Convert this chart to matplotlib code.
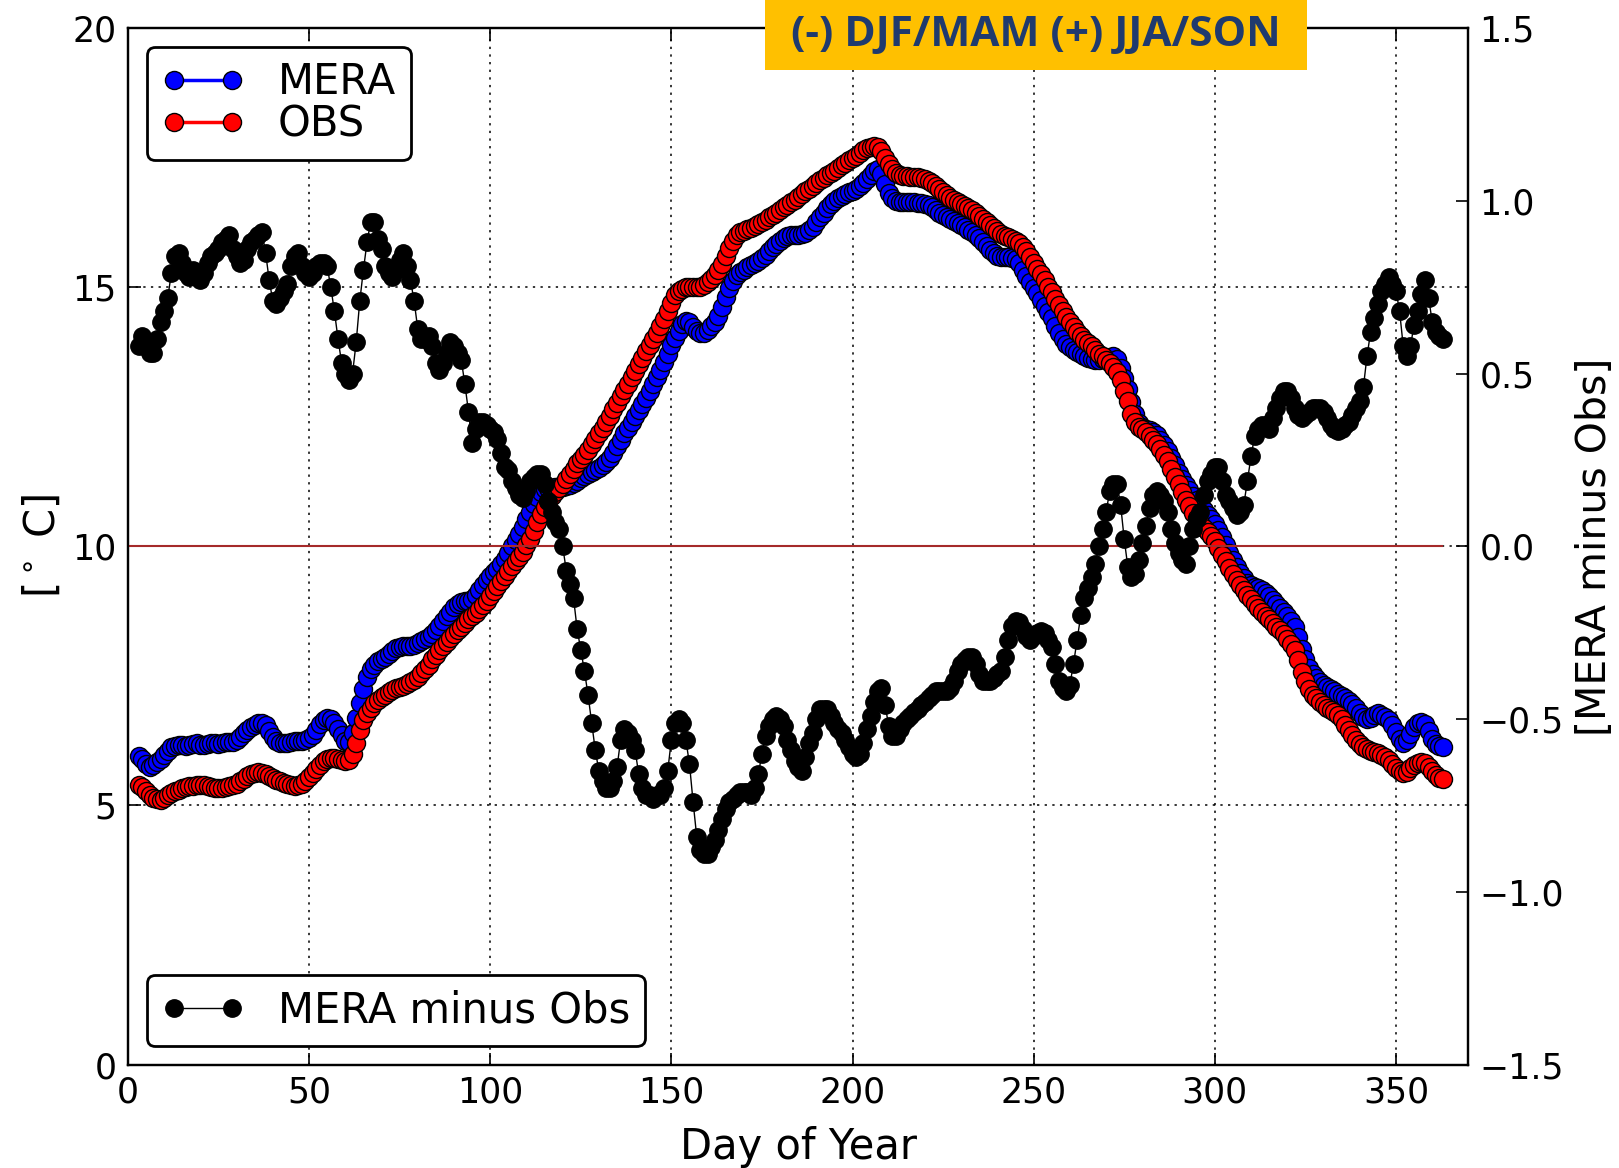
import matplotlib
matplotlib.use('Agg')
import matplotlib.pyplot as plt
from matplotlib.patches import Rectangle

# day of year (centred running means, days 3..363)
day_of_year = list(range(3, 364))

mera = [
    5.96, 5.90, 5.80, 5.75, 5.78, 5.84, 5.90, 5.98, 6.06, 6.12,
    6.15, 6.16, 6.16, 6.15, 6.16, 6.18, 6.20, 6.17, 6.16, 6.18,
    6.20, 6.20, 6.19, 6.20, 6.22, 6.22, 6.23, 6.26, 6.32, 6.39,
    6.46, 6.52, 6.56, 6.60, 6.60, 6.55, 6.44, 6.32, 6.24, 6.20,
    6.20, 6.21, 6.22, 6.24, 6.24, 6.24, 6.26, 6.30, 6.36, 6.46,
    6.57, 6.65, 6.69, 6.67, 6.60, 6.48, 6.36, 6.25, 6.22, 6.40,
    6.68, 6.98, 7.25, 7.48, 7.63, 7.72, 7.78, 7.82, 7.86, 7.92,
    7.98, 8.03, 8.06, 8.07, 8.07, 8.08, 8.10, 8.13, 8.17, 8.21,
    8.26, 8.31, 8.38, 8.46, 8.55, 8.65, 8.74, 8.82, 8.88, 8.92,
    8.94, 8.95, 8.98, 9.06, 9.16, 9.26, 9.35, 9.43, 9.50, 9.57,
    9.65, 9.76, 9.88, 10.00, 10.12, 10.24, 10.37, 10.52, 10.67, 10.82,
    10.95, 11.05, 11.10, 11.12, 11.13, 11.14, 11.14, 11.15, 11.17, 11.19,
    11.22, 11.26, 11.31, 11.35, 11.40, 11.44, 11.48, 11.52, 11.57, 11.62,
    11.70, 11.80, 11.93, 12.06, 12.18, 12.28, 12.40, 12.52, 12.63, 12.74,
    12.87, 13.00, 13.13, 13.27, 13.40, 13.55, 13.72, 13.88, 14.02, 14.16,
    14.28, 14.35, 14.32, 14.24, 14.16, 14.11, 14.12, 14.18, 14.25, 14.33,
    14.45, 14.62, 14.82, 14.98, 15.12, 15.24, 15.30, 15.34, 15.38, 15.42,
    15.46, 15.51, 15.56, 15.63, 15.70, 15.77, 15.84, 15.90, 15.95, 15.99,
    16.01, 16.01, 16.01, 16.02, 16.05, 16.10, 16.16, 16.25, 16.35, 16.44,
    16.52, 16.60, 16.67, 16.72, 16.76, 16.80, 16.83, 16.86, 16.90, 16.95,
    17.01, 17.08, 17.16, 17.24, 17.28, 17.18, 17.00, 16.82, 16.72, 16.66,
    16.64, 16.64, 16.64, 16.64, 16.64, 16.63, 16.62, 16.61, 16.58, 16.54,
    16.49, 16.44, 16.39, 16.35, 16.31, 16.28, 16.24, 16.20, 16.16, 16.11,
    16.06, 16.00, 15.94, 15.87, 15.80, 15.72, 15.65, 15.60, 15.58, 15.58,
    15.58, 15.57, 15.54, 15.46, 15.34, 15.22, 15.10, 14.99, 14.88, 14.76,
    14.64, 14.52, 14.40, 14.26, 14.12, 14.00, 13.91, 13.84, 13.79, 13.75,
    13.71, 13.67, 13.63, 13.61, 13.60, 13.60, 13.61, 13.63, 13.66, 13.68,
    13.62, 13.45, 13.25, 13.03, 12.78, 12.55, 12.38, 12.30, 12.27, 12.24,
    12.20, 12.14, 12.06, 11.96, 11.84, 11.70, 11.56, 11.42, 11.30, 11.19,
    11.08, 10.98, 10.89, 10.80, 10.70, 10.60, 10.52, 10.43, 10.32, 10.18,
    10.03, 9.88, 9.73, 9.60, 9.48, 9.38, 9.30, 9.25, 9.22, 9.19,
    9.15, 9.10, 9.04, 8.97, 8.89, 8.81, 8.73, 8.65, 8.56, 8.44,
    8.25, 8.02, 7.82, 7.66, 7.54, 7.46, 7.39, 7.33, 7.28, 7.24,
    7.20, 7.16, 7.12, 7.07, 7.02, 6.96, 6.88, 6.78, 6.70, 6.66,
    6.68, 6.74, 6.78, 6.75, 6.70, 6.65, 6.56, 6.42, 6.28, 6.20,
    6.26, 6.38, 6.52, 6.60, 6.62, 6.58, 6.44, 6.28, 6.18, 6.14,
    6.13,
]

obs = [
    5.40, 5.35, 5.28, 5.20, 5.15, 5.12, 5.10, 5.15, 5.20, 5.24,
    5.27, 5.30, 5.33, 5.35, 5.37, 5.38, 5.40, 5.39, 5.39, 5.38,
    5.36, 5.34, 5.33, 5.34, 5.36, 5.37, 5.39, 5.42, 5.47, 5.51,
    5.56, 5.60, 5.63, 5.64, 5.63, 5.60, 5.56, 5.53, 5.50, 5.47,
    5.44, 5.41, 5.39, 5.38, 5.39, 5.42, 5.48, 5.55, 5.63, 5.71,
    5.78, 5.85, 5.90, 5.92, 5.92, 5.90, 5.87, 5.85, 5.88, 6.00,
    6.20, 6.45, 6.65, 6.78, 6.88, 6.97, 7.04, 7.10, 7.14, 7.18,
    7.22, 7.26, 7.29, 7.31, 7.34, 7.38, 7.42, 7.47, 7.55, 7.63,
    7.72, 7.82, 7.91, 8.00, 8.08, 8.16, 8.23, 8.30, 8.38, 8.45,
    8.52, 8.59, 8.66, 8.72, 8.79, 8.86, 8.95, 9.05, 9.14, 9.24,
    9.34, 9.43, 9.52, 9.62, 9.71, 9.80, 9.90, 10.02, 10.15, 10.30,
    10.47, 10.62, 10.75, 10.88, 10.97, 11.04, 11.12, 11.20, 11.30, 11.40,
    11.50, 11.60, 11.68, 11.76, 11.85, 11.97, 12.08, 12.18, 12.28, 12.40,
    12.52, 12.65, 12.77, 12.90, 13.02, 13.14, 13.27, 13.39, 13.51, 13.63,
    13.76, 13.88, 14.00, 14.12, 14.25, 14.38, 14.55, 14.70, 14.85, 14.93,
    14.97, 15.00, 15.01, 15.01, 15.00, 15.01, 15.05, 15.10, 15.16, 15.23,
    15.33, 15.45, 15.60, 15.75, 15.90, 16.00, 16.06, 16.09, 16.12, 16.15,
    16.18, 16.22, 16.26, 16.30, 16.35, 16.39, 16.44, 16.49, 16.54, 16.59,
    16.64, 16.69, 16.74, 16.79, 16.85, 16.90, 16.96, 17.01, 17.06, 17.11,
    17.16, 17.21, 17.25, 17.30, 17.35, 17.40, 17.45, 17.50, 17.54, 17.59,
    17.64, 17.68, 17.71, 17.72, 17.70, 17.62, 17.50, 17.38, 17.28, 17.21,
    17.17, 17.15, 17.14, 17.13, 17.13, 17.12, 17.10, 17.08, 17.05, 17.01,
    16.95, 16.89, 16.83, 16.78, 16.73, 16.69, 16.65, 16.61, 16.57, 16.53,
    16.48, 16.43, 16.38, 16.32, 16.26, 16.20, 16.14, 16.08, 16.03, 15.99,
    15.96, 15.93, 15.89, 15.85, 15.78, 15.69, 15.58, 15.47, 15.36, 15.25,
    15.13, 15.01, 14.90, 14.78, 14.66, 14.55, 14.43, 14.33, 14.23, 14.14,
    14.06, 13.99, 13.93, 13.86, 13.79, 13.72, 13.67, 13.60, 13.54, 13.46,
    13.36, 13.20, 13.00, 12.80, 12.56, 12.40, 12.31, 12.26, 12.20, 12.13,
    12.06, 11.97, 11.87, 11.76, 11.64, 11.50, 11.34, 11.20, 11.04, 10.90,
    10.77, 10.65, 10.55, 10.45, 10.36, 10.28, 10.20, 10.10, 9.97, 9.84,
    9.71, 9.58, 9.46, 9.35, 9.25, 9.16, 9.07, 8.98, 8.89, 8.81,
    8.73, 8.66, 8.59, 8.52, 8.45, 8.38, 8.31, 8.22, 8.12, 8.00,
    7.80, 7.58, 7.40, 7.25, 7.14, 7.07, 7.00, 6.94, 6.88, 6.84,
    6.80, 6.74, 6.66, 6.56, 6.46, 6.36, 6.27, 6.19, 6.13, 6.09,
    6.06, 6.04, 6.02, 5.98, 5.93, 5.87, 5.80, 5.72, 5.66, 5.62,
    5.65, 5.72, 5.78, 5.82, 5.84, 5.82, 5.75, 5.66, 5.58, 5.53,
    5.52,
]

mera_minus_obs = [
    0.58, 0.61, 0.59, 0.56, 0.56, 0.60, 0.65, 0.68, 0.72, 0.79,
    0.84, 0.85, 0.82, 0.79, 0.78, 0.80, 0.79, 0.77, 0.79, 0.82,
    0.84, 0.85, 0.86, 0.88, 0.89, 0.90, 0.86, 0.84, 0.82, 0.83,
    0.86, 0.88, 0.89, 0.90, 0.91, 0.85, 0.77, 0.71, 0.70, 0.72,
    0.74, 0.76, 0.81, 0.84, 0.85, 0.81, 0.79, 0.78, 0.79, 0.81,
    0.82, 0.82, 0.81, 0.75, 0.68, 0.60, 0.53, 0.50, 0.48, 0.50,
    0.59, 0.71, 0.80, 0.88, 0.94, 0.94, 0.89, 0.86, 0.81, 0.79,
    0.78, 0.80, 0.83, 0.85, 0.81, 0.77, 0.71, 0.63, 0.60, 0.60,
    0.61, 0.58, 0.53, 0.51, 0.53, 0.56, 0.59, 0.58, 0.56, 0.54,
    0.47, 0.39, 0.30, 0.34, 0.36, 0.36, 0.35, 0.34, 0.33, 0.31,
    0.27, 0.23, 0.22, 0.19, 0.17, 0.15, 0.14, 0.16, 0.19, 0.20,
    0.21, 0.21, 0.18, 0.13, 0.10, 0.07, 0.05, 0.00, -0.07, -0.11,
    -0.15, -0.24, -0.30, -0.36, -0.43, -0.51, -0.59, -0.65, -0.68, -0.70,
    -0.70, -0.68, -0.64, -0.56, -0.53, -0.54, -0.56, -0.59, -0.66, -0.70,
    -0.72, -0.72, -0.73, -0.72, -0.72, -0.70, -0.65, -0.56, -0.51, -0.50,
    -0.51, -0.56, -0.63, -0.74, -0.84, -0.88, -0.89, -0.89, -0.87, -0.85,
    -0.82, -0.79, -0.76, -0.74, -0.73, -0.72, -0.71, -0.71, -0.71, -0.72,
    -0.70, -0.66, -0.60, -0.55, -0.52, -0.50, -0.49, -0.50, -0.52, -0.56,
    -0.59, -0.62, -0.64, -0.65, -0.61, -0.57, -0.54, -0.50, -0.47, -0.47,
    -0.47, -0.49, -0.51, -0.53, -0.54, -0.56, -0.58, -0.60, -0.61, -0.60,
    -0.57, -0.53, -0.49, -0.45, -0.42, -0.41, -0.46, -0.52, -0.55, -0.55,
    -0.53, -0.51, -0.50, -0.49, -0.48, -0.47, -0.46, -0.45, -0.44, -0.43,
    -0.42, -0.42, -0.42, -0.42, -0.41, -0.39, -0.36, -0.34, -0.33, -0.32,
    -0.32, -0.34, -0.37, -0.39, -0.39, -0.39, -0.38, -0.37, -0.36, -0.32,
    -0.27, -0.23, -0.215, -0.22, -0.24, -0.26, -0.27, -0.26, -0.25, -0.245,
    -0.25, -0.27, -0.29, -0.34, -0.39, -0.41, -0.42, -0.40, -0.34, -0.27,
    -0.20, -0.15, -0.12, -0.09, -0.05, 0.00, 0.05, 0.10, 0.16, 0.18,
    0.18, 0.12, 0.02, -0.06, -0.09, -0.08, -0.04, 0.01, 0.06, 0.11,
    0.15, 0.16, 0.15, 0.13, 0.10, 0.05, 0.01, -0.02, -0.04, -0.05,
    0.00, 0.05, 0.08, 0.10, 0.15, 0.19, 0.21, 0.23, 0.23, 0.19,
    0.15, 0.13, 0.11, 0.09, 0.10, 0.12, 0.19, 0.26, 0.32, 0.34,
    0.35, 0.35, 0.34, 0.37, 0.40, 0.43, 0.45, 0.45, 0.43, 0.40,
    0.38, 0.37, 0.38, 0.39, 0.40, 0.40, 0.40, 0.39, 0.37, 0.35,
    0.34, 0.335, 0.34, 0.35, 0.36, 0.38, 0.40, 0.42, 0.46, 0.55,
    0.62, 0.66, 0.70, 0.74, 0.76, 0.78, 0.76, 0.74, 0.68, 0.58,
    0.55, 0.58, 0.64, 0.68, 0.73, 0.77, 0.72, 0.65, 0.62, 0.61,
    0.60,
]

x_ticks = [0, 50, 100, 150, 200, 250, 300, 350]
left_ticks = [0, 5, 10, 15, 20]
right_ticks = [-1.5, -1.0, -0.5, 0.0, 0.5, 1.0, 1.5]
season_note = '(-) DJF/MAM (+) JJA/SON'

fig = plt.figure(figsize=(16.19, 11.68), dpi=100)
ax = fig.add_axes([0.079, 0.0885, 0.828, 0.8875])

# blue first so red sits on top where they overlap
ax.plot(day_of_year, mera, '-o', color='blue', mfc='blue', mec='black',
        ms=13, mew=1.0, lw=2.5, label='MERA')
ax.plot(day_of_year, obs, '-o', color='red', mfc='red', mec='black',
        ms=13, mew=1.0, lw=2.5, label='OBS')
ax.set_xlim(0, 370)
ax.set_ylim(0, 20)
ax.set_xticks(x_ticks)
ax.set_yticks(left_ticks)
ax.grid(True, linestyle=(0, (1.5, 3.5)), color='black', linewidth=1.1)
ax.set_xlabel('Day of Year', fontsize=30, labelpad=12)
ax.set_ylabel(r'[$^\circ$ C]', fontsize=30, labelpad=6)

ax2 = ax.twinx()
ax2.hlines(0.0, 0, day_of_year[-1], color='#a52a2a', linewidth=1.5)
ax2.plot(day_of_year, mera_minus_obs, '-o', color='black', mfc='black',
         mec='black', ms=12.5, lw=1.0, label='MERA minus Obs')
ax2.set_ylim(-1.5, 1.5)
ax2.set_yticks(right_ticks)
ax2.set_yticklabels([('%.1f' % t).replace('-', '\u2212') for t in right_ticks])
ax2.set_ylabel('[MERA minus Obs]', fontsize=29.5, labelpad=8)

for a in (ax, ax2):
    a.tick_params(axis='both', which='major', labelsize=25, direction='in',
                  length=9, width=1.2, pad=8)
    for s in a.spines.values():
        s.set_linewidth(1.6)
ax.tick_params(top=True)

# legends
leg1 = ax2.legend(handles=ax.get_lines()[:2], loc='upper left', fontsize=30,
                  numpoints=2, fancybox=True, handlelength=2.0,
                  labelspacing=0.0, borderpad=0.35, handletextpad=0.8,
                  borderaxespad=0.45, framealpha=1, edgecolor='black')
leg1.get_frame().set_linewidth(2)
ax2.add_artist(leg1)
leg2 = ax2.legend(handles=ax2.get_lines()[:1], loc='lower left', fontsize=30,
                  numpoints=2, fancybox=True, handlelength=2.0,
                  borderpad=0.35, handletextpad=0.8, borderaxespad=0.45,
                  framealpha=1, edgecolor='black')
leg2.get_frame().set_linewidth(2)

# season note box at the top
fig.add_artist(Rectangle((0.4725, 0.940), 0.3348, 0.062,
                         transform=fig.transFigure, facecolor='#ffc000',
                         edgecolor='none', zorder=5))
fig.text(0.640, 0.970, season_note, ha='center', va='center', fontsize=30.5,
         fontweight='bold', color='#1f3a6e', family='Open Sans', zorder=6)

fig.savefig('out.png', dpi=100)
